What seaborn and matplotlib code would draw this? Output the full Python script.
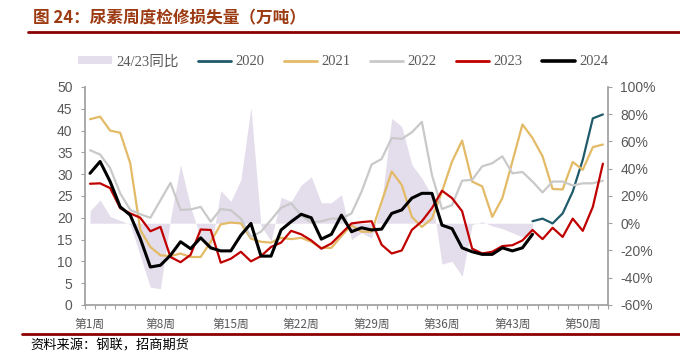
import matplotlib
matplotlib.use("Agg")
import matplotlib.pyplot as plt
from matplotlib.lines import Line2D
from matplotlib.patches import Patch
import numpy as np
import pandas as pd
import seaborn as sns

# 数据（万吨），第1周 ~ 第52周
weeks = list(range(1, 53))
tick_weeks = [1, 8, 15, 22, 29, 36, 43, 50]
nan = np.nan

y2020 = [nan] * 44 + [19.2, 19.8, 18.7, 21.0, 26.0, 33.3, 42.8, 43.7]

y2021 = [42.6, 43.2, 40.0, 39.5, 32.5, 17.2, 13.3, 11.4, 11.2, 11.8,
         11.0, 11.0, 14.5, 18.5, 18.9, 18.7, 15.2, 14.5, 14.3, 15.4,
         15.1, 15.4, 14.5, 13.1, 13.1, 15.8, 18.3, 16.8, 16.8, 23.7,
         30.6, 27.5, 20.2, 17.9, 19.8, 26.0, 32.9, 37.7, 28.3, 27.2,
         20.2, 24.5, 32.9, 41.4, 38.3, 34.1, 26.6, 26.5, 32.8, 31.0,
         36.2, 36.8]

y2022 = [35.5, 34.5, 31.4, 25.6, 21.8, 20.8, 20.0, 24.0, 28.0, 21.8,
         21.9, 22.5, 19.1, 22.0, 21.7, 19.8, 15.6, 16.8, 19.5, 22.3,
         23.3, 20.6, 18.9, 19.2, 19.8, 19.8, 21.0, 26.0, 32.2, 33.5,
         38.3, 38.1, 39.6, 42.0, 29.8, 22.0, 22.9, 28.5, 28.7, 31.8,
         32.5, 34.1, 30.2, 30.5, 28.3, 25.8, 28.3, 28.3, 27.4, 27.9,
         27.9, 28.5]

y2023 = [27.8, 27.9, 26.8, 22.2, 21.0, 20.0, 16.9, 17.9, 11.0, 9.8,
         11.5, 17.3, 17.2, 9.7, 10.6, 12.2, 10.0, 11.2, 13.3, 14.3,
         17.0, 16.2, 14.8, 12.9, 14.1, 16.4, 18.7, 19.0, 19.2, 13.8,
         11.8, 12.5, 17.2, 19.2, 22.2, 26.2, 24.5, 21.5, 12.9, 11.8,
         12.2, 13.5, 13.7, 14.8, 17.2, 15.1, 17.7, 15.6, 19.8, 17.0,
         22.5, 32.4]

y2024 = [30.2, 32.9, 28.3, 22.5, 20.6, 15.2, 8.7, 9.1, 11.4, 14.5,
         12.9, 15.4, 13.1, 12.4, 12.4, 16.0, 18.7, 11.2, 11.2, 17.2,
         19.1, 20.8, 20.0, 15.1, 16.2, 20.6, 16.8, 17.7, 17.2, 17.4,
         21.0, 21.8, 24.5, 25.6, 25.6, 18.3, 17.5, 13.1, 12.2, 11.6,
         11.6, 13.1, 12.4, 13.1, 16.2] + [nan] * 7

# 24/23同比（%），右轴
yoy = [9, 17, 5, 2, -1, -24, -47, -48, 3, 43,
       12, -11, -20, 24, 16, 32, 85, -2, -13, 19,
       16, 28, 34, 15, 15, 21, -12, -7, -11, 15,
       77, 71, 43, 33, 20, -30, -28, -39, -1, 1,
       -2, -4, -7, -10, -6] + [nan] * 7

series = [("2020", y2020, "#1f5b6b", 1.6),
          ("2021", y2021, "#e3ba66", 1.6),
          ("2022", y2022, "#c9c9c9", 1.6),
          ("2023", y2023, "#c00000", 1.6),
          ("2024", y2024, "#000000", 2.2)]
area_color = "#e4ddeb"
grey_txt = "#595959"
spine_col = "#a0a0a0"

sns.set_theme(style="white")
plt.rcParams["font.family"] = ["Liberation Sans", "Noto Sans CJK SC"]

fig = plt.figure(figsize=(6.8, 3.55), dpi=100)
ax = fig.add_axes([0.125, 0.141, 0.769, 0.614])
ax2 = ax.twinx()
ax.set_zorder(2)
ax2.set_zorder(1)
ax.patch.set_visible(False)

idx = np.arange(len(weeks))

# 同比面积图
ax2.fill_between(idx, 0, np.array(yoy, dtype=float), color=area_color, linewidth=0)

# 各年折线
df = pd.DataFrame({"idx": idx})
for name, vals, col, lw in series:
    df[name] = vals
    sns.lineplot(data=df, x="idx", y=name, ax=ax, color=col, linewidth=lw)

ax.set_xlim(-0.5, 51.5)
ax.set_ylim(0, 50)
ax.set_yticks(np.arange(0, 51, 5))
ax2.set_ylim(-60, 100)
ax2.set_yticks(np.arange(-60, 101, 20))
ax2.set_yticklabels([f"{v}%" for v in range(-60, 101, 20)])
ax.set_xlabel("")
ax.set_ylabel("")

# x轴：每周一个刻度，标签每7周
ax.set_xticks(np.arange(-0.5, 52, 1))
ax.set_xticklabels([])
ax.set_xticks([w - 1 for w in tick_weeks], minor=True)
ax.set_xticklabels([f"第{w}周" for w in tick_weeks], minor=True,
                   fontfamily="Noto Sans CJK SC", fontsize=8.5, color=grey_txt)
ax.tick_params(axis="x", which="major", direction="out", length=3, width=0.8,
               color=spine_col, bottom=True)
ax.tick_params(axis="x", which="minor", length=0, pad=9)
ax.tick_params(axis="y", direction="out", length=3, width=0.8, color=spine_col,
               labelsize=10, labelcolor=grey_txt, pad=6, left=True)
ax2.tick_params(axis="y", direction="out", length=3, width=0.8, color=spine_col,
                labelsize=10, labelcolor=grey_txt, pad=6, right=True)

for s in ["top", "right"]:
    ax.spines[s].set_visible(False)
for s in ["left", "bottom"]:
    ax.spines[s].set_color(spine_col)
for s in ["top", "left", "bottom"]:
    ax2.spines[s].set_visible(False)
ax2.spines["right"].set_color(spine_col)
ax.grid(False)
ax2.grid(False)

# 图例
handles = [Patch(facecolor=area_color, edgecolor="none", label="24/23同比")]
for name, vals, col, lw in series:
    handles.append(Line2D([0], [0], color=col, linewidth=lw + 0.4, label=name))
leg = fig.legend(handles=handles, loc="center", bbox_to_anchor=(0.505, 0.826),
                 ncol=6, frameon=False, handlelength=2.3, handleheight=0.45,
                 columnspacing=1.3, handletextpad=0.3,
                 prop={"family": ["Liberation Serif", "Noto Sans CJK SC"], "size": 10.5})
for t in leg.get_texts():
    t.set_color(grey_txt)

# 标题与来源
fig.text(0.048, 0.949, "图 24：尿素周度检修损失量（万吨）", fontsize=12,
         fontweight="bold", color="#9c3a12", va="center", ha="left",
         family=["Noto Sans CJK SC"])
fig.add_artist(Line2D([0.041, 1.0], [0.911, 0.911], color="#8b0000", linewidth=2))
fig.add_artist(Line2D([0.032, 1.0], [0.059, 0.059], color="#8b0000", linewidth=2))
fig.text(0.044, 0.025, "资料来源：钢联，招商期货", fontsize=9.5, color="black",
         va="center", ha="left", family=["Noto Sans CJK SC"])

fig.savefig("out.png", dpi=100)
